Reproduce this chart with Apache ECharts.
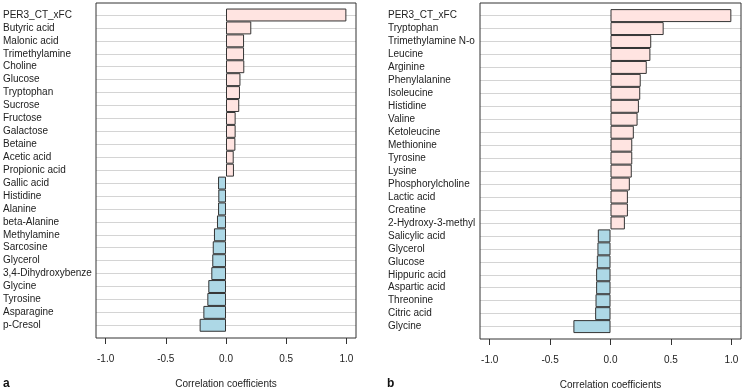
<!DOCTYPE html>
<html>
<head>
<meta charset="utf-8">
<script src="https://cdn.jsdelivr.net/npm/echarts@6/dist/echarts.min.js"></script>
<style>
  html, body { margin: 0; padding: 0; background: #fff; }
  #chart { width: 742px; height: 390px; }
</style>
</head>
<body>
<div id="chart"></div>
<script>
const namesA = ['PER3_CT_xFC', 'Butyric acid', 'Malonic acid', 'Trimethylamine', 'Choline', 'Glucose',
  'Tryptophan', 'Sucrose', 'Fructose', 'Galactose', 'Betaine', 'Acetic acid', 'Propionic acid',
  'Gallic acid', 'Histidine', 'Alanine', 'beta-Alanine', 'Methylamine', 'Sarcosine', 'Glycerol',
  '3,4-Dihydroxybenze', 'Glycine', 'Tyrosine', 'Asparagine', 'p-Cresol']
const valuesA = [1.0, 0.21, 0.15, 0.15, 0.152, 0.12, 0.116, 0.11, 0.08, 0.08, 0.078, 0.064, 0.066,
  -0.066, -0.064, -0.066, -0.075, -0.10, -0.11, -0.114, -0.122, -0.147, -0.155, -0.188, -0.219]

const namesB = ['PER3_CT_xFC', 'Tryptophan', 'Trimethylamine N-o', 'Leucine', 'Arginine', 'Phenylalanine',
  'Isoleucine', 'Histidine', 'Valine', 'Ketoleucine', 'Methionine', 'Tyrosine', 'Lysine',
  'Phosphorylcholine', 'Lactic acid', 'Creatine', '2-Hydroxy-3-methyl', 'Salicylic acid', 'Glycerol',
  'Glucose', 'Hippuric acid', 'Aspartic acid', 'Threonine', 'Citric acid', 'Glycine']
const valuesB = [1.0, 0.44, 0.337, 0.33, 0.30, 0.25, 0.246, 0.235, 0.224, 0.193, 0.18, 0.18, 0.176,
  0.16, 0.144, 0.144, 0.119, -0.105, -0.108, -0.113, -0.119, -0.119, -0.124, -0.127, -0.307]

const tickValues = [-1, -0.5, 0, 0.5, 1]

const FONT = '"Liberation Sans", Arial, sans-serif'
const X_MIN = -1.08
const X_MAX = 1.08

// frame (box + bottom axis) and bar area for each panel
const panels = [
  { names: namesA, values: valuesA, frame: { left: 96, top: 3, width: 260, height: 335 }, bars: { left: 96, top: 15, width: 260, height: 310.3 }, labelMargin: 93 },
  { names: namesB, values: valuesB, frame: { left: 480, top: 3, width: 261, height: 336 }, bars: { left: 480, top: 15.6, width: 261, height: 311 }, labelMargin: 92 }
]

const grid = []
const xAxis = []
const yAxis = []
const series = []

panels.forEach((p, i) => {
  const frameIdx = i * 2
  const barIdx = i * 2 + 1

  grid.push({ ...p.frame, outerBoundsMode: 'none', containLabel: false, show: true, borderColor: '#333', borderWidth: 1, backgroundColor: 'transparent', z: 3 })
  grid.push({ ...p.bars, outerBoundsMode: 'none', containLabel: false, show: false })

  // visible bottom axis on the frame
  xAxis.push({
    gridIndex: frameIdx,
    type: 'value',
    min: X_MIN,
    max: X_MAX,
    axisLine: { show: false },
    splitLine: { show: false },
    axisTick: { show: true, customValues: tickValues, length: 6, lineStyle: { color: '#333' } },
    axisLabel: {
      customValues: tickValues,
      margin: 16,
      color: '#222',
      fontSize: 10,
      fontFamily: FONT,
      formatter: (v) => Number(v).toFixed(1)
    },
    name: 'Correlation coefficients',
    nameLocation: 'middle',
    nameGap: 41,
    nameTextStyle: { color: '#222', fontSize: 10, fontFamily: FONT }
  })
  yAxis.push({ gridIndex: frameIdx, type: 'value', show: false })

  // bar area
  xAxis.push({ gridIndex: barIdx, type: 'value', min: X_MIN, max: X_MAX, show: false })
  yAxis.push({
    gridIndex: barIdx,
    type: 'category',
    data: p.names,
    inverse: true,
    boundaryGap: false,
    axisLine: { show: false },
    axisTick: { show: false },
    splitLine: { show: true, interval: 0, lineStyle: { color: '#d4d4d4', width: 1 } },
    axisLabel: {
      interval: 0,
      align: 'left',
      margin: p.labelMargin,
      color: '#222',
      fontSize: 10,
      fontFamily: FONT
    }
  })

  series.push({
    type: 'bar',
    xAxisIndex: barIdx,
    yAxisIndex: barIdx,
    data: p.values,
    barWidth: '100%',
    clip: false,
    silent: true,
    itemStyle: {
      color: (params) => params.value >= 0 ? '#FFE4E1' : '#ADD8E6',
      borderColor: '#333',
      borderWidth: 1
    }
  })
})

const chart = echarts.init(document.getElementById('chart'), null, { renderer: 'canvas' })
chart.setOption({
  animation: false,
  backgroundColor: '#fff',
  title: [
    { text: 'a', left: 3, top: 378, padding: 0, textStyle: { fontSize: 12, fontWeight: 'bold', color: '#111', fontFamily: FONT } },
    { text: 'b', left: 387, top: 378, padding: 0, textStyle: { fontSize: 12, fontWeight: 'bold', color: '#111', fontFamily: FONT } }
  ],
  grid,
  xAxis,
  yAxis,
  series
})
</script>
</body>
</html>
